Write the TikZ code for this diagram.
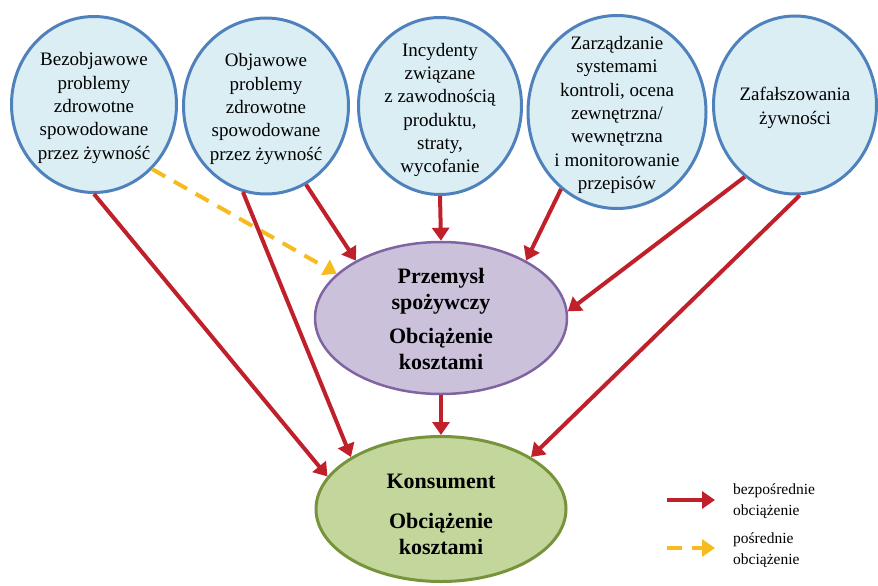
\documentclass[tikz,border=0pt]{standalone}
\usepackage{fontspec}
\setmainfont{Liberation Serif}
\usetikzlibrary{shapes.geometric,arrows.meta}
\definecolor{cfill}{RGB}{219,238,244}
\definecolor{cdraw}{RGB}{79,129,189}
\definecolor{pfill}{RGB}{204,193,218}
\definecolor{pdraw}{RGB}{128,100,162}
\definecolor{kfill}{RGB}{195,214,155}
\definecolor{kdraw}{RGB}{119,147,60}
\definecolor{rline}{RGB}{192,32,42}
\definecolor{yline}{RGB}{247,187,30}
\begin{document}
\begin{tikzpicture}[x=1pt,y=-1pt,
 bubble/.style={ellipse,draw=cdraw,fill=cfill,line width=3pt,inner sep=0pt},
 ctext/.style={align=center,font=\fontsize{19}{23.3}\selectfont,inner sep=0pt},
 btext/.style={align=center,font=\fontsize{22}{26}\selectfont\bfseries,inner sep=0pt},
 direct/.style={draw=rline,line width=4pt,-{Triangle[length=13pt,width=17pt]}},
 indirect/.style={draw=yline,line width=4pt,dash pattern=on 15pt off 10pt,-{Triangle[length=13pt,width=17pt]}},
 ltext/.style={align=left,anchor=west,font=\fontsize{15.5}{21}\selectfont,inner sep=0pt}]
\useasboundingbox (0,0) rectangle (878,586);

% source circles
\node[bubble,minimum width=165pt,minimum height=176pt] (c1) at (94,104.5) {};
\node[bubble,minimum width=165pt,minimum height=176pt] (c2) at (266,106) {};
\node[bubble,minimum width=163pt,minimum height=177pt] (c3) at (440,106) {};
\node[bubble,minimum width=178pt,minimum height=193pt] (c4) at (617,112) {};
\node[bubble,minimum width=163pt,minimum height=178pt] (c5) at (795,105) {};

\node[ctext] (t1) at (94,108) {Bezobjawowe\\problemy\\zdrowotne\\spowodowane\\przez żywność};
\node[ctext] (t2) at (266,109) {Objawowe\\problemy\\zdrowotne\\spowodowane\\przez żywność};
\node[ctext] (t3) at (440,110) {Incydenty\\związane\\z zawodnością\\produktu,\\straty,\\wycofanie};
\node[ctext] (t4) at (617,115) {Zarządzanie\\systemami\\kontroli, ocena\\zewnętrzna/\\wewnętrzna\\i monitorowanie\\przepisów};
\node[ctext] (t5) at (795,108) {Zafałszowania\\żywności};

% target ellipses
\node[ellipse,draw=pdraw,fill=pfill,line width=2.5pt,inner sep=0pt,minimum width=252pt,minimum height=152pt] (p) at (441,318) {};
\node[btext] (pt) at (441,319) {Przemysł\\spożywczy\\[8pt]Obciążenie\\kosztami};
\node[ellipse,draw=kdraw,fill=kfill,line width=3pt,inner sep=0pt,minimum width=250pt,minimum height=145pt] (k) at (441,509) {};
\node[btext] (kt) at (441,514) {Konsument\\[14pt]Obciążenie\\kosztami};

% connectors
\draw[direct] (c1.-90) -- (k.164);
\draw[indirect] (c1.-48) -- (p.157);
\draw[direct] (c2.-105) -- (k.150);
\draw[direct] (c2.-63) -- (p.146);
\draw[direct] (c3.south) -- (p.north);
\draw[direct] (c4.-126) -- (p.34);
\draw[direct] (c5.-125) -- (p.3);
\draw[direct] (c5.-87) -- (k.30);
\draw[direct] (p.south) -- (k.north);

% legend
\coordinate (l1a) at (667,500);
\coordinate (l1b) at (715,500);
\coordinate (l2a) at (667,548);
\coordinate (l2b) at (715,548);
\draw[direct] (l1a) -- (l1b);
\draw[indirect] (l2a) -- (l2b);
\node[ltext] (l1t) at (733,501) {bezpośrednie\\obciążenie};
\node[ltext] (l2t) at (733,550) {pośrednie\\obciążenie};
\end{tikzpicture}
\end{document}
